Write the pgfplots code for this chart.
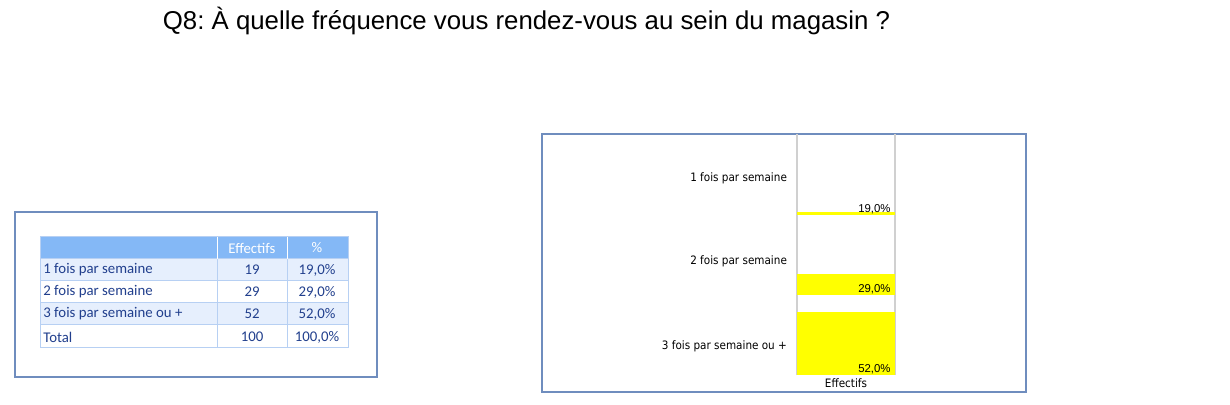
\documentclass[border=0pt]{standalone}
\usepackage{pgfplots}
\pgfplotsset{compat=1.18}
\usepackage{fontspec}
\setmainfont{Liberation Sans}
\newfontfamily\tabfont{Carlito}
\newfontfamily\chfont{DejaVu Sans Condensed}
\definecolor{boxblue}{HTML}{6F8DBE}
\definecolor{hdrblue}{HTML}{84B8F6}
\definecolor{rowblue}{HTML}{E6EFFD}
\definecolor{cellline}{HTML}{B7D0F3}
\definecolor{txtblue}{HTML}{213F8D}
\definecolor{grline}{HTML}{D0D0D0}
\definecolor{baryellow}{HTML}{FFFF00}
\frenchspacing
\pgfplotsset{
  panel/.style={
    scale only axis, width=49pt,
    xmin=-0.5, xmax=0.5, ymin=17.6,
    axis line style={draw=none},
    xtick=\empty, major tick length=0pt,
    yticklabel style={font=\chfont\fontsize{5.8}{6}\selectfont, anchor=east, xshift=-1.5pt},
    clip=true,
  },
}
\begin{document}
\begin{tikzpicture}
\useasboundingbox (0,0) rectangle (615pt,202.5pt);
\begin{scope}[shift={(0pt,202.5pt)}, x=0.5pt, y=-0.5pt]
  % title
  \node[font=\fontsize{12.9}{14}\selectfont] at (526.5,21) {Q8: À quelle fréquence vous rendez-vous au sein du magasin ?};
  % table box
  \draw[boxblue, line width=0.6pt] (15,212) rectangle (377,377);
  \fill[hdrblue] (40,237) rectangle (348,259);
  \fill[rowblue] (40,259) rectangle (348,281);
  \fill[white] (40,281) rectangle (348,303);
  \fill[rowblue] (40,303) rectangle (348,325);
  \fill[white] (40,325) rectangle (348,348);
  \draw[cellline, line width=0.5pt] (40,237) rectangle (348,348);
  \foreach \yy in {259,281,303,325} \draw[cellline, line width=0.5pt] (40,\yy) -- (348,\yy);
  \draw[white, line width=0.5pt] (217,237) -- (217,259);
  \draw[white, line width=0.5pt] (287,237) -- (287,259);
  \draw[cellline, line width=0.5pt] (217,259) -- (217,348);
  \draw[cellline, line width=0.5pt] (287,259) -- (287,348);
  \begin{scope}[every node/.style={font=\tabfont\fontsize{7.4}{8}\selectfont, inner sep=0pt}]
    \node[white] at (252,248) {Effectifs};
    \node[white] at (317,248) {\%};
    \node[txtblue, anchor=west] at (43,270) {1 fois par semaine};
    \node[txtblue, anchor=west] at (43,292) {2 fois par semaine};
    \node[txtblue, anchor=west] at (43,314) {3 fois par semaine ou +};
    \node[txtblue, anchor=west] at (43,337) {Total};
    \node[txtblue] at (252,270) {19};
    \node[txtblue] at (252,292) {29};
    \node[txtblue] at (252,314) {52};
    \node[txtblue] at (252,337) {100};
    \node[txtblue] at (317,270) {19,0\%};
    \node[txtblue] at (317,292) {29,0\%};
    \node[txtblue] at (317,314) {52,0\%};
    \node[txtblue] at (317,337) {100,0\%};
  \end{scope}
  % chart frame
  \draw[boxblue, line width=0.6pt] (542,134) rectangle (1026,392);
  \draw[grline, line width=0.6pt] (797,134) -- (797,375);
  \draw[grline, line width=0.6pt] (895,134) -- (895,375);
\end{scope}
% panel 1
\begin{axis}[panel, at={(398.5pt,95pt)}, anchor=south west, height=40.5pt, ymax=61.6,
  ytick={37.7}, yticklabels={1 fois par semaine}]
  \addplot[ybar, bar width=1, fill=baryellow, draw=none] coordinates {(0,19)};
  \node[anchor=base east, font=\fontsize{5.7}{6}\selectfont, inner sep=0pt] at (rel axis cs:1,0) [xshift=-2pt, yshift=1pt] {19,0\%};
\end{axis}
% panel 2
\begin{axis}[panel, at={(398.5pt,55pt)}, anchor=south west, height=40pt, ymax=61.1,
  ytick={35.7}, yticklabels={2 fois par semaine}]
  \addplot[ybar, bar width=1, fill=baryellow, draw=none] coordinates {(0,29)};
  \node[anchor=base east, font=\fontsize{5.7}{6}\selectfont, inner sep=0pt] at (rel axis cs:1,0) [xshift=-2pt, yshift=1pt] {29,0\%};
\end{axis}
% panel 3
\begin{axis}[panel, at={(398.5pt,15pt)}, anchor=south west, height=40pt, ymax=61.1,
  ytick={33.3}, yticklabels={3 fois par semaine ou +},
  xlabel={Effectifs}, xlabel style={font=\chfont\fontsize{5.8}{6}\selectfont, at={(rel axis cs:0.5,0)}, anchor=north, yshift=-1.5pt, inner sep=0pt}]
  \addplot[ybar, bar width=1, fill=baryellow, draw=none] coordinates {(0,52)};
  \node[anchor=base east, font=\fontsize{5.7}{6}\selectfont, inner sep=0pt] at (rel axis cs:1,0) [xshift=-2pt, yshift=1pt] {52,0\%};
\end{axis}
\end{tikzpicture}
\end{document}
